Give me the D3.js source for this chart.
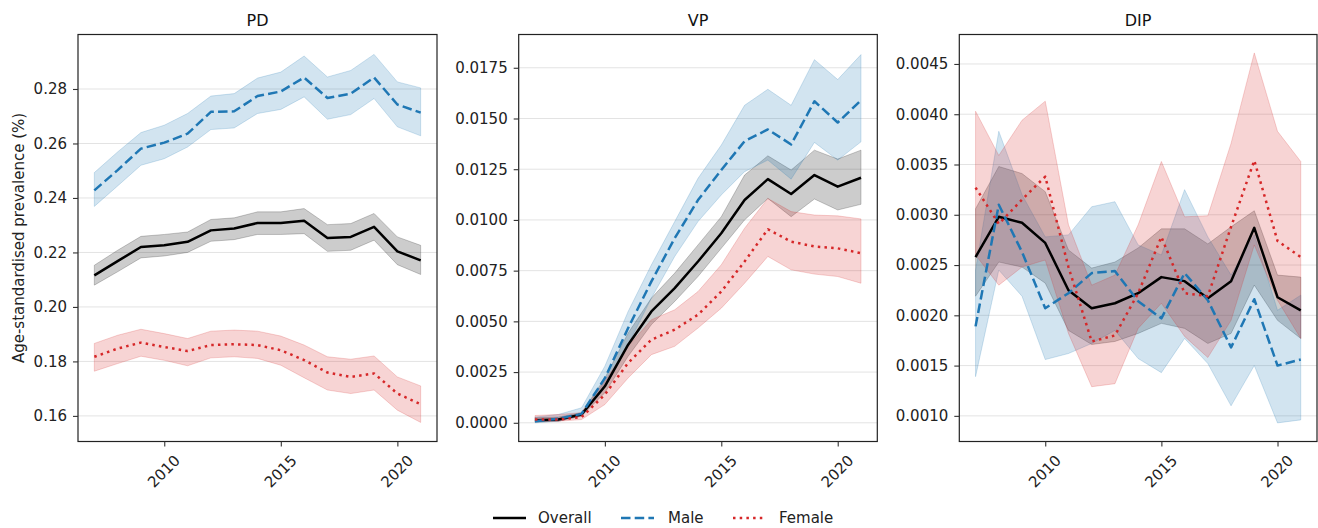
<!DOCTYPE html>
<html lang="en">
<head>
<meta charset="utf-8">
<script src="https://cdn.jsdelivr.net/npm/d3@7"></script>
<style>
body { margin: 0; background: #fff; font-family: "DejaVu Sans", sans-serif; }
.axis text { font: 15px "DejaVu Sans", sans-serif; fill: #222; }
.axis line { stroke: #333; stroke-width: 1.1; }
.axis path { display: none; }
.grid line { stroke: #e3e3e3; stroke-width: 1; }
</style>
</head>
<body>
<script>

var years = d3.range(2007, 2022);

// PD
var pdOverall   = [0.2116,0.2168,0.2220,0.2226,0.2239,0.2281,0.2288,0.2308,0.2308,0.2316,0.2253,0.2257,0.2294,0.2204,0.2171];
var pdOverallLo = [0.2080,0.2129,0.2180,0.2187,0.2200,0.2241,0.2247,0.2266,0.2266,0.2269,0.2204,0.2208,0.2245,0.2155,0.2119];
var pdOverallHi = [0.2153,0.2208,0.2259,0.2266,0.2275,0.2321,0.2327,0.2349,0.2349,0.2361,0.2302,0.2306,0.2343,0.2257,0.2226];
var pdMale      = [0.2428,0.2502,0.2581,0.2603,0.2636,0.2716,0.2718,0.2774,0.2791,0.2842,0.2767,0.2783,0.2842,0.2743,0.2713];
var pdMaleLo    = [0.2369,0.2444,0.2520,0.2544,0.2587,0.2651,0.2657,0.2710,0.2725,0.2771,0.2689,0.2706,0.2765,0.2661,0.2628];
var pdMaleHi    = [0.2493,0.2569,0.2640,0.2667,0.2710,0.2774,0.2783,0.2840,0.2862,0.2921,0.2844,0.2868,0.2927,0.2826,0.2804];
var pdFemale    = [0.1817,0.1847,0.1869,0.1853,0.1838,0.1860,0.1863,0.1860,0.1841,0.1805,0.1759,0.1743,0.1756,0.1682,0.1643];
var pdFemaleLo  = [0.1764,0.1792,0.1819,0.1804,0.1784,0.1813,0.1817,0.1811,0.1786,0.1740,0.1695,0.1682,0.1695,0.1621,0.1576];
var pdFemaleHi  = [0.1866,0.1896,0.1918,0.1902,0.1884,0.1911,0.1915,0.1911,0.1893,0.1860,0.1817,0.1808,0.1820,0.1743,0.1710];

// VP
var vpOverall   = [0.00012,0.00016,0.00041,0.00180,0.00385,0.00549,0.00664,0.00795,0.00934,0.01098,0.01201,0.01128,0.01221,0.01164,0.01208];
var vpOverallLo = [0.00003,0.00008,0.00033,0.00148,0.00328,0.00484,0.00598,0.00721,0.00860,0.01000,0.01106,0.01016,0.01103,0.01049,0.01077];
var vpOverallHi = [0.00025,0.00028,0.00050,0.00220,0.00443,0.00615,0.00738,0.00877,0.01016,0.01221,0.01316,0.01246,0.01344,0.01300,0.01344];
var vpMale      = [0.00008,0.00020,0.00044,0.00220,0.00467,0.00697,0.00910,0.01098,0.01246,0.01388,0.01446,0.01372,0.01585,0.01480,0.01590];
var vpMaleLo    = [0.00000,0.00008,0.00033,0.00172,0.00385,0.00615,0.00820,0.00992,0.01123,0.01238,0.01295,0.01201,0.01382,0.01295,0.01385];
var vpMaleHi    = [0.00028,0.00041,0.00074,0.00279,0.00549,0.00779,0.00992,0.01205,0.01369,0.01565,0.01644,0.01565,0.01790,0.01692,0.01815];
var vpFemale    = [0.00016,0.00016,0.00028,0.00139,0.00295,0.00410,0.00459,0.00533,0.00647,0.00795,0.00954,0.00893,0.00869,0.00860,0.00836];
var vpFemaleLo  = [0.00008,0.00008,0.00016,0.00090,0.00221,0.00336,0.00377,0.00467,0.00565,0.00688,0.00820,0.00754,0.00733,0.00721,0.00688];
var vpFemaleHi  = [0.00036,0.00041,0.00050,0.00205,0.00377,0.00508,0.00557,0.00647,0.00779,0.00959,0.01106,0.01041,0.01024,0.01020,0.01005];

// DIP
var dipOverall   = [0.00258,0.00298,0.00292,0.00272,0.00225,0.00207,0.00212,0.00222,0.00238,0.00234,0.00217,0.00234,0.00287,0.00218,0.00205];
var dipOverallLo = [0.00219,0.00253,0.00248,0.00232,0.00185,0.00171,0.00174,0.00182,0.00192,0.00187,0.00172,0.00182,0.00230,0.00195,0.00177];
var dipOverallHi = [0.00306,0.00348,0.00341,0.00323,0.00265,0.00247,0.00253,0.00267,0.00286,0.00286,0.00271,0.00288,0.00304,0.00240,0.00238];
var dipMale      = [0.00189,0.00310,0.00263,0.00207,0.00222,0.00242,0.00244,0.00214,0.00197,0.00242,0.00215,0.00168,0.00216,0.00150,0.00156];
var dipMaleLo    = [0.00139,0.00245,0.00219,0.00156,0.00162,0.00172,0.00185,0.00157,0.00143,0.00177,0.00152,0.00110,0.00150,0.00093,0.00096];
var dipMaleHi    = [0.00245,0.00383,0.00320,0.00278,0.00280,0.00308,0.00313,0.00270,0.00260,0.00325,0.00278,0.00240,0.00280,0.00205,0.00220];
var dipFemale    = [0.00327,0.00291,0.00315,0.00338,0.00248,0.00174,0.00180,0.00222,0.00278,0.00222,0.00219,0.00288,0.00354,0.00274,0.00258];
var dipFemaleLo  = [0.00260,0.00230,0.00248,0.00255,0.00182,0.00129,0.00132,0.00187,0.00212,0.00179,0.00158,0.00195,0.00270,0.00215,0.00177];
var dipFemaleHi  = [0.00403,0.00359,0.00394,0.00413,0.00290,0.00230,0.00240,0.00290,0.00353,0.00298,0.00299,0.00371,0.00461,0.00383,0.00353];

var pdTicks  = [0.16, 0.18, 0.20, 0.22, 0.24, 0.26, 0.28];
var vpTicks  = [0, 0.0025, 0.005, 0.0075, 0.01, 0.0125, 0.015, 0.0175];
var dipTicks = [0.001, 0.0015, 0.002, 0.0025, 0.003, 0.0035, 0.004, 0.0045];
var xTicks   = [2010, 2015, 2020];

var seriesNames = ["Overall", "Male", "Female"];
var colors = { Overall: "#000000", Male: "#1f77b4", Female: "#d62728" };
var dashes = { Overall: null, Male: "9.5,4.2", Female: "2.5,4.2" };

var panels = [
	{ title: "PD", left: 78, right: 437, ydom: [0.1506, 0.3000], ticks: pdTicks, fmt: ".2f",
	  data: [[pdOverall, pdOverallLo, pdOverallHi], [pdMale, pdMaleLo, pdMaleHi], [pdFemale, pdFemaleLo, pdFemaleHi]] },
	{ title: "VP", left: 518.7, right: 877.3, ydom: [-0.000922, 0.01914], ticks: vpTicks, fmt: ".4f",
	  data: [[vpOverall, vpOverallLo, vpOverallHi], [vpMale, vpMaleLo, vpMaleHi], [vpFemale, vpFemaleLo, vpFemaleHi]] },
	{ title: "DIP", left: 959.3, right: 1317, ydom: [0.000745, 0.004793], ticks: dipTicks, fmt: ".4f",
	  data: [[dipOverall, dipOverallLo, dipOverallHi], [dipMale, dipMaleLo, dipMaleHi], [dipFemale, dipFemaleLo, dipFemaleHi]] }
];

var width = 1318, height = 528;
var plotTop = 34.5, plotBottom = 441.5;

var svg = d3.select("body").append("svg")
	.attr("width", width)
	.attr("height", height);

panels.forEach(function(p) {
	var x = d3.scaleLinear().domain([2006.3, 2021.7]).range([p.left, p.right]);
	var y = d3.scaleLinear().domain(p.ydom).range([plotBottom, plotTop]);
	var g = svg.append("g");

	// grid
	g.append("g").attr("class", "grid")
		.selectAll("line").data(p.ticks).enter().append("line")
		.attr("x1", p.left).attr("x2", p.right)
		.attr("y1", function(d) { return y(d); })
		.attr("y2", function(d) { return y(d); });

	var clipId = "clip-" + p.title;
	g.append("clipPath").attr("id", clipId).append("rect")
		.attr("x", p.left).attr("y", plotTop).attr("width", p.right - p.left).attr("height", plotBottom - plotTop);

	var plot = g.append("g").attr("clip-path", "url(#" + clipId + ")");

	var area = d3.area()
		.x(function(d, i) { return x(years[i]); })
		.y0(function(d) { return y(d[0]); })
		.y1(function(d) { return y(d[1]); });
	var line = d3.line()
		.x(function(d, i) { return x(years[i]); })
		.y(function(d) { return y(d); });

	p.data.forEach(function(s, k) {
		var name = seriesNames[k];
		var band = years.map(function(yr, i) { return [s[1][i], s[2][i]]; });
		plot.append("path")
			.attr("d", area(band))
			.attr("fill", colors[name])
			.attr("fill-opacity", 0.2)
			.attr("stroke", colors[name])
			.attr("stroke-opacity", 0.2)
			.attr("stroke-width", 1);
	});
	p.data.forEach(function(s, k) {
		var name = seriesNames[k];
		plot.append("path")
			.attr("d", line(s[0]))
			.attr("fill", "none")
			.attr("stroke", colors[name])
			.attr("stroke-width", 2.5)
			.attr("stroke-dasharray", dashes[name])
			.attr("stroke-linejoin", "round");
	});

	// frame
	g.append("rect")
		.attr("x", p.left).attr("y", plotTop)
		.attr("width", p.right - p.left).attr("height", plotBottom - plotTop)
		.attr("fill", "none").attr("stroke", "#222").attr("stroke-width", 1.2);

	// y axis
	g.append("g").attr("class", "axis")
		.attr("transform", "translate(" + p.left + ",0)")
		.call(d3.axisLeft(y).tickValues(p.ticks).tickFormat(d3.format(p.fmt)).tickSize(5).tickPadding(6));

	// x axis
	var xa = g.append("g").attr("class", "axis")
		.attr("transform", "translate(0," + plotBottom + ")")
		.call(d3.axisBottom(x).tickValues(xTicks).tickFormat(d3.format("d")).tickSize(5));
	xa.selectAll("text")
		.attr("text-anchor", "middle")
		.attr("dy", null)
		.attr("y", 0)
		.attr("dominant-baseline", "central")
		.attr("transform", "translate(-0.7,30) rotate(-45)");

	// title
	svg.append("text")
		.attr("x", (p.left + p.right) / 2)
		.attr("y", 26)
		.attr("text-anchor", "middle")
		.style("font", "16px 'DejaVu Sans', sans-serif")
		.style("fill", "#111")
		.text(p.title);
});

// y label
svg.append("text")
	.attr("transform", "translate(24," + ((plotTop + plotBottom) / 2) + ") rotate(-90)")
	.attr("text-anchor", "middle")
	.style("font", "15px 'DejaVu Sans', sans-serif")
	.style("fill", "#222")
	.text("Age-standardised prevalence (%)");

// legend
var legendItems = [
	{ name: "Overall", x: 493, tx: 538 },
	{ name: "Male", x: 621, tx: 668 },
	{ name: "Female", x: 733, tx: 779 }
];
var lg = svg.append("g").attr("transform", "translate(0,518)");
legendItems.forEach(function(it) {
	lg.append("line")
		.attr("x1", it.x).attr("x2", it.x + 33)
		.attr("y1", 0).attr("y2", 0)
		.attr("stroke", colors[it.name])
		.attr("stroke-width", 2.5)
		.attr("stroke-dasharray", dashes[it.name]);
	lg.append("text")
		.attr("x", it.tx)
		.attr("y", 0)
		.attr("dominant-baseline", "central")
		.style("font", "15px 'DejaVu Sans', sans-serif")
		.style("fill", "#222")
		.text(it.name);
});

</script>
</body>
</html>
